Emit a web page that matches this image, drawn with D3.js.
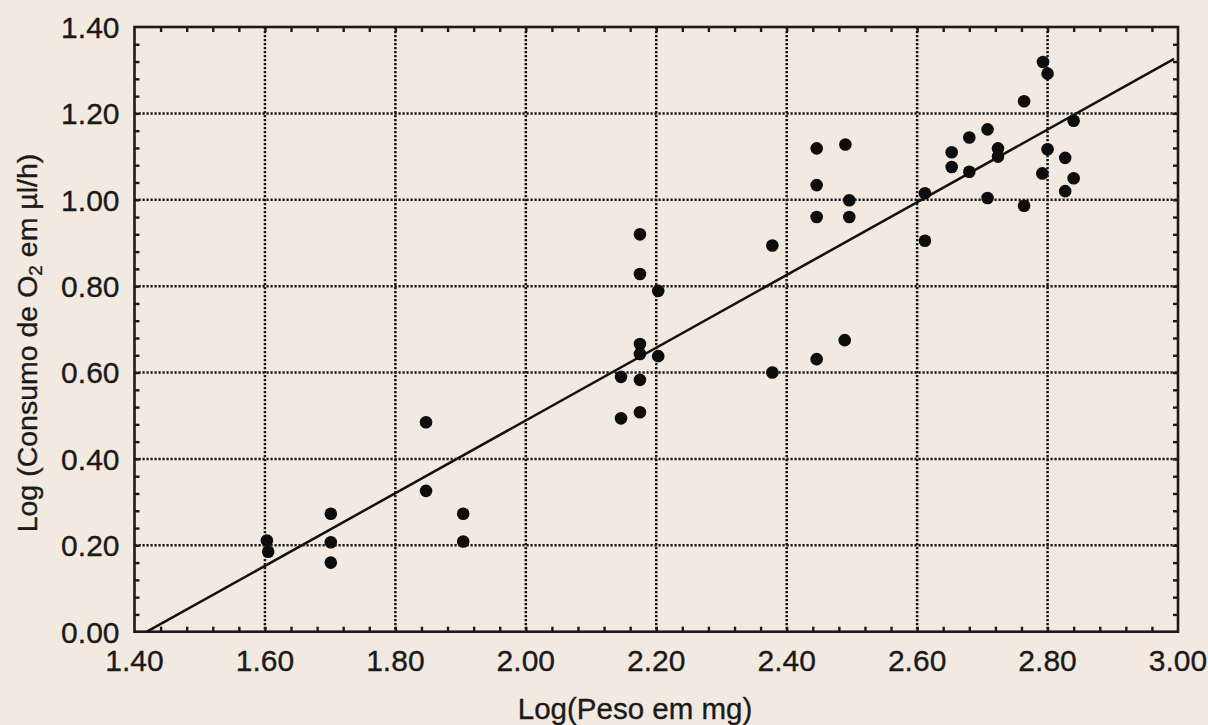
<!DOCTYPE html>
<html>
<head>
<meta charset="utf-8">
<script src="https://cdn.jsdelivr.net/npm/d3@7"></script>
<style>
  html, body { margin: 0; padding: 0; background: #f2eae1; }
  svg { display: block; }
  text { font-family: "Liberation Sans", Arial, Helvetica, sans-serif; fill: #1a1a1a; stroke: #1a1a1a; stroke-width: 0.35px; }
</style>
</head>
<body>
<svg id="chart" width="1208" height="725"></svg>
<script>
// ---- data ----
const logWeight = [
  1.603, 1.605,
  1.701, 1.701, 1.701,
  1.847, 1.847,
  1.904, 1.904,
  2.146, 2.146,
  2.175, 2.175, 2.175, 2.175, 2.175, 2.175,
  2.203, 2.203,
  2.378, 2.378,
  2.446, 2.446, 2.446, 2.446,
  2.490, 2.489,
  2.496, 2.496,
  2.612, 2.612,
  2.653, 2.653,
  2.680, 2.680,
  2.708, 2.708,
  2.724, 2.724,
  2.764, 2.764,
  2.793, 2.792,
  2.800, 2.800,
  2.827, 2.827,
  2.840, 2.840
];
const logO2 = [
  0.211, 0.185,
  0.273, 0.207, 0.160,
  0.485, 0.326,
  0.273, 0.209,
  0.590, 0.494,
  0.920, 0.828, 0.666, 0.643, 0.583, 0.508,
  0.789, 0.638,
  0.894, 0.600,
  1.119, 1.034, 0.960, 0.631,
  1.128, 0.675,
  0.999, 0.960,
  1.015, 0.905,
  1.110, 1.076,
  1.144, 1.065,
  1.163, 1.004,
  1.119, 1.100,
  1.228, 0.986,
  1.319, 1.061,
  1.292, 1.117,
  1.097, 1.020,
  1.183, 1.050
];
const fitX = [1.419, 2.994];
const fitY = [0.000, 1.326];
const xTicks = [1.40, 1.60, 1.80, 2.00, 2.20, 2.40, 2.60, 2.80, 3.00];
const yTicks = [0.00, 0.20, 0.40, 0.60, 0.80, 1.00, 1.20, 1.40];
const xTitle = "Log(Peso em mg)";
const yTitleParts = ["Log (Consumo de  O", "2", " em \u00b5l/h)"];

// ---- layout ----
const svg = d3.select("#chart");
const L = 134.5, R = 1178, T = 27, B = 631.7;
const x = d3.scaleLinear().domain([1.4, 3.0]).range([L, R]);
const y = d3.scaleLinear().domain([0, 1.4]).range([B, T]);

svg.append("rect").attr("width", 1208).attr("height", 725).attr("fill", "#f2eae1");

// grid (dotted) at major ticks
const grid = svg.append("g").attr("stroke", "#141414").attr("stroke-width", 2.5)
  .attr("stroke-dasharray", "2.2,1.8");
grid.selectAll("line.gx").data(xTicks.slice(1, -1)).join("line")
  .attr("x1", d => x(d)).attr("x2", d => x(d)).attr("y1", T).attr("y2", B);
grid.selectAll("line.gy").data(yTicks.slice(1, -1)).join("line")
  .attr("x1", L).attr("x2", R).attr("y1", d => y(d)).attr("y2", d => y(d));

// minor ticks (inward) on all four sides
const minorX = d3.range(0, 41).map(i => 1.4 + i * 0.04).filter(v => v > 1.401 && v < 2.999);
const minorY = d3.range(0, 36).map(i => i * 0.04).filter(v => v > 0.001 && v < 1.399);
const tl = 5;
const axisBottom = d3.axisBottom(x).tickValues(minorX).tickSize(-tl).tickFormat("");
const axisTop = d3.axisTop(x).tickValues(minorX).tickSize(-tl).tickFormat("");
const axisLeft = d3.axisLeft(y).tickValues(minorY).tickSize(-tl).tickFormat("");
const axisRight = d3.axisRight(y).tickValues(minorY).tickSize(-tl).tickFormat("");
function styleAxis(g) {
  g.select(".domain").remove();
  g.selectAll(".tick line").attr("stroke", "#1a1a1a").attr("stroke-width", 2.4);
}
svg.append("g").attr("transform", `translate(0,${B})`).call(axisBottom).call(styleAxis);
svg.append("g").attr("transform", `translate(0,${T})`).call(axisTop).call(styleAxis);
svg.append("g").attr("transform", `translate(${L},0)`).call(axisLeft).call(styleAxis);
svg.append("g").attr("transform", `translate(${R},0)`).call(axisRight).call(styleAxis);

// frame
svg.append("rect").attr("x", L).attr("y", T).attr("width", R - L).attr("height", B - T)
  .attr("fill", "none").attr("stroke", "#1a1a1a").attr("stroke-width", 2.6);

// tick labels
svg.append("g").selectAll("text").data(xTicks).join("text")
  .attr("x", d => x(d)).attr("y", B + 39).attr("text-anchor", "middle")
  .attr("font-size", 30).text(d => d.toFixed(2));
svg.append("g").selectAll("text").data(yTicks).join("text")
  .attr("x", L - 15).attr("y", d => y(d)).attr("dy", "0.36em").attr("text-anchor", "end")
  .attr("font-size", 30).text(d => d.toFixed(2));

// regression line
const line = d3.line().x(d => x(d[0])).y(d => y(d[1]));
svg.append("path").datum(d3.zip(fitX, fitY)).attr("d", line)
  .attr("fill", "none").attr("stroke", "#111").attr("stroke-width", 2.5);

// points
svg.append("g").selectAll("circle").data(d3.zip(logWeight, logO2)).join("circle")
  .attr("cx", d => x(d[0])).attr("cy", d => y(d[1])).attr("r", 6.3).attr("fill", "#0d0d0d");

// axis titles
svg.append("text").attr("x", 635).attr("y", 719).attr("text-anchor", "middle")
  .attr("font-size", 29.5).text(xTitle);
const yt = svg.append("text").attr("text-anchor", "middle").attr("font-size", 28.5)
  .attr("transform", "translate(37,343) rotate(-90)");
yt.append("tspan").text(yTitleParts[0]);
yt.append("tspan").attr("font-size", 19).attr("dy", 5).text(yTitleParts[1]);
yt.append("tspan").attr("dy", -5).text(yTitleParts[2]);
</script>
</body>
</html>
